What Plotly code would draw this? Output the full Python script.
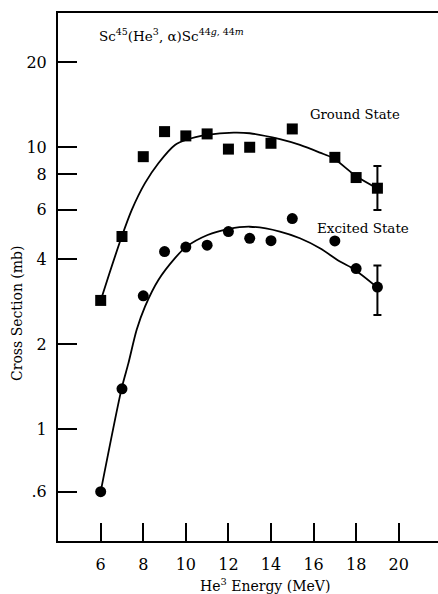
import plotly.graph_objects as go
import math

# Measured data (He3 energy in MeV, cross section in mb)
energy = [6, 7, 8, 9, 10, 11, 12, 13, 14, 15, 17, 18, 19]
ground = [2.86, 4.82, 9.25, 11.35, 10.96, 11.14, 9.84, 9.99, 10.32, 11.6, 9.2, 7.8, 7.15]
excited = [0.60, 1.39, 2.97, 4.26, 4.42, 4.49, 5.02, 4.75, 4.66, 5.58, 4.65, 3.71, 3.19]

# Error bars on the last point
ground_err_plus = [1.43]
ground_err_minus = [1.16]
excited_err_plus = [0.61]
excited_err_minus = [0.65]

# Smooth fitted curves
ground_curve_x = [6.0, 6.4, 6.99, 7.46, 8.08, 8.71, 9.49, 10, 11, 12.25, 13, 14.42, 15.36, 16.3, 16.93, 18.03, 18.97]
ground_curve_y = [2.86, 3.55, 4.82, 5.99, 7.45, 8.77, 10.18, 10.6, 11.05, 11.26, 11.2, 10.67, 10.18, 9.56, 9.13, 7.86, 7.15]
excited_curve_x = [6.0, 6.99, 7.3, 7.69, 8.08, 8.71, 9.49, 10, 11.02, 12, 13, 14.42, 15.36, 16.3, 17.24, 17.9, 18.97]
excited_curve_y = [0.60, 1.40, 1.71, 2.25, 2.72, 3.38, 4.04, 4.42, 4.88, 5.12, 5.22, 5.02, 4.75, 4.38, 3.93, 3.69, 3.19]

x_ticks = [6, 8, 10, 12, 14, 16, 18, 20]
y_ticks = [0.6, 1, 2, 4, 6, 8, 10, 20]
y_tick_text = [".6", "1", "2", "4", "6", "8", "10", "20"]

FONT = "DejaVu Serif"

fig = go.Figure()
for cx, cy in ((ground_curve_x, ground_curve_y), (excited_curve_x, excited_curve_y)):
    fig.add_trace(go.Scatter(x=cx, y=cy, mode="lines",
                             line=dict(color="black", width=1.8, shape="spline", smoothing=0.8),
                             hoverinfo="skip", showlegend=False))
fig.add_trace(go.Scatter(x=energy, y=ground, mode="markers",
                         marker=dict(symbol="square", size=11, color="black"),
                         name="Ground State", showlegend=False))
fig.add_trace(go.Scatter(x=energy, y=excited, mode="markers",
                         marker=dict(symbol="circle", size=11, color="black"),
                         name="Excited State", showlegend=False))
fig.add_trace(go.Scatter(x=energy[-1:], y=ground[-1:], mode="markers",
                         marker=dict(size=0.1, color="black"),
                         error_y=dict(type="data", symmetric=False, array=ground_err_plus,
                                      arrayminus=ground_err_minus, color="black",
                                      thickness=2, width=4),
                         showlegend=False, hoverinfo="skip"))
fig.add_trace(go.Scatter(x=energy[-1:], y=excited[-1:], mode="markers",
                         marker=dict(size=0.1, color="black"),
                         error_y=dict(type="data", symmetric=False, array=excited_err_plus,
                                      arrayminus=excited_err_minus, color="black",
                                      thickness=2, width=4),
                         showlegend=False, hoverinfo="skip"))

fig.update_layout(
    width=438, height=594,
    margin=dict(l=58, r=0, t=13, b=53),
    paper_bgcolor="white", plot_bgcolor="white",
    font=dict(family=FONT, color="black", size=16),
    xaxis=dict(range=[3.994, 21.846], tickvals=x_ticks, ticks="inside", ticklen=18,
               tickwidth=2, tickcolor="black", showline=True, linecolor="black",
               linewidth=2, mirror=True, showgrid=False, zeroline=False,
               ticklabelstandoff=8, tickfont=dict(family=FONT, size=16)),
    yaxis=dict(type="log", range=[math.log10(0.401), math.log10(29.9)],
               tickvals=y_ticks, ticktext=y_tick_text, ticks="inside", ticklen=19,
               tickwidth=2, tickcolor="black", showline=True, linecolor="black",
               linewidth=2, showgrid=False, zeroline=False,
               ticklabelstandoff=6, tickfont=dict(family=FONT, size=16)),
    annotations=[
        dict(text="Sc<sup>45</sup>(He<sup>3</sup>, α)Sc<sup>44<i>g</i>, 44<i>m</i></sup>",
             xref="paper", yref="paper", x=0.1026, y=0.9583, xanchor="left",
             yanchor="middle", showarrow=False, font=dict(family=FONT, size=13.5)),
        dict(text="Ground State", xref="paper", yref="paper", x=0.6579, y=0.8087,
             xanchor="left", yanchor="middle", showarrow=False,
             font=dict(family=FONT, size=13.2)),
        dict(text="Excited State", xref="paper", yref="paper", x=0.6763, y=0.5934,
             xanchor="left", yanchor="middle", showarrow=False,
             font=dict(family=FONT, size=13.5)),
        dict(text="He<sup>3</sup> Energy (MeV)", xref="paper", yref="paper",
             x=0.5447, y=-0.0833, xanchor="center", yanchor="middle",
             showarrow=False, font=dict(family=FONT, size=14)),
        dict(text="Cross Section (mb)", xref="paper", yref="paper",
             x=-0.1079, y=0.4318, xanchor="center", yanchor="middle",
             textangle=-90, showarrow=False, font=dict(family=FONT, size=14)),
    ],
)

fig.write_html("out.html", config={"displayModeBar": False},
               post_script="document.body.style.margin='0';")
